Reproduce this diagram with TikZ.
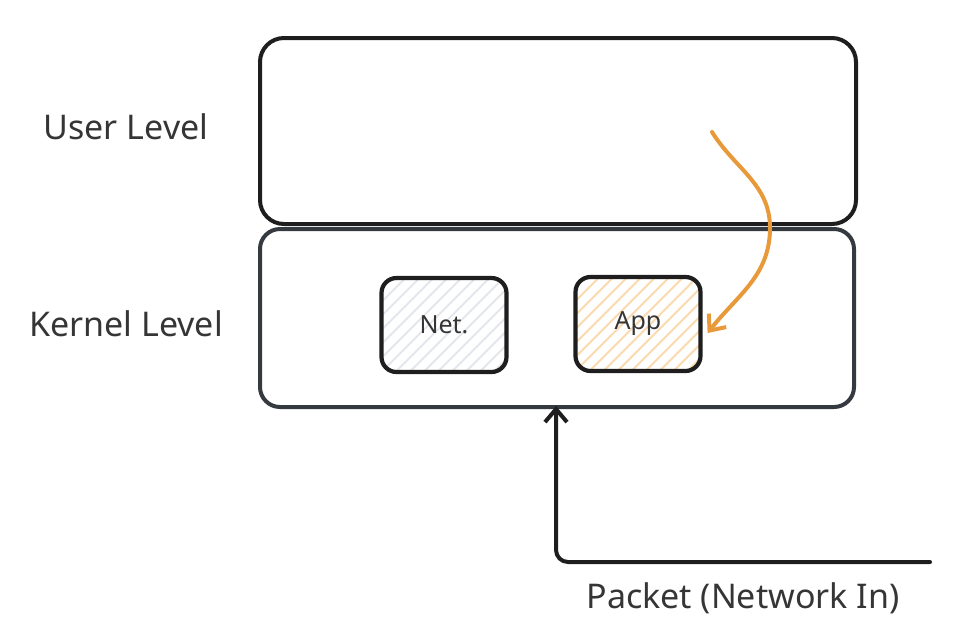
\documentclass[tikz,border=0pt]{standalone}
\usepackage{fontspec}
\setmainfont{Noto Sans}
\usetikzlibrary{arrows.meta,positioning}
\definecolor{ink}{HTML}{1E1E1E}
\definecolor{inkgray}{HTML}{343A40}
\definecolor{flow}{HTML}{E8993A}
\definecolor{nethatch}{HTML}{E3E6EA}
\definecolor{apphatch}{HTML}{FBD9AE}

\begin{document}
\begin{tikzpicture}[x=1pt, y=-1pt,
  every node/.style={font=\fontsize{34}{40}\selectfont, text=ink!90},
  layer/.style={draw=ink, line width=4pt, rectangle, rounded corners=24pt},
  module/.style={draw=ink, line width=4.2pt, rectangle, rounded corners=15pt,
    minimum width=125pt, minimum height=94pt, font=\fontsize{25}{30}\selectfont},
  hatch/.style={path picture={
    \foreach \i in {-140,-126,...,140}
      \draw[#1, line width=1.8pt] ([xshift=\i pt]path picture bounding box.south west) -- ++(120pt,120pt);}},
  tlabel/.style={draw=none}]

  \useasboundingbox (0,0) rectangle (960,638);

  % layers
  \node (user) [layer, draw=ink, minimum width=596pt, minimum height=186pt] at (558,131) {};
  \node (kernel) [layer, draw=inkgray, rounded corners=20pt, minimum width=594pt, minimum height=178pt] at (557,318) {};

  \node (userlbl) [tlabel] at (126,127) {User Level};
  \node (kernellbl) [tlabel] at (126,324) {Kernel Level};

  % kernel modules
  \node (net) [module, hatch=nethatch] at (444,325) {Net.};
  \node (app) [module, hatch=apphatch] at (638,324) {App};

  % packet flow
  \coordinate (flowstart) at (712,132);
  \coordinate (pktin) at (930,562);
  \draw [flow, line width=4pt, line cap=round, -{Straight Barb[length=13pt,width=22pt,line width=4pt]}]
    (flowstart) to[out=-58, in=90] (770,228) to[out=-90, in=52] ([shift={(5,9)}]app.east);
  \draw [ink, line width=4pt, line cap=round, rounded corners=12pt, -{Straight Barb[length=13pt,width=22pt,line width=4pt]}]
    (pktin) -| ([xshift=-1pt, yshift=3pt]kernel.south);

  \node (pktlbl) [tlabel] at (743,598) {Packet (Network In)};
\end{tikzpicture}
\end{document}
